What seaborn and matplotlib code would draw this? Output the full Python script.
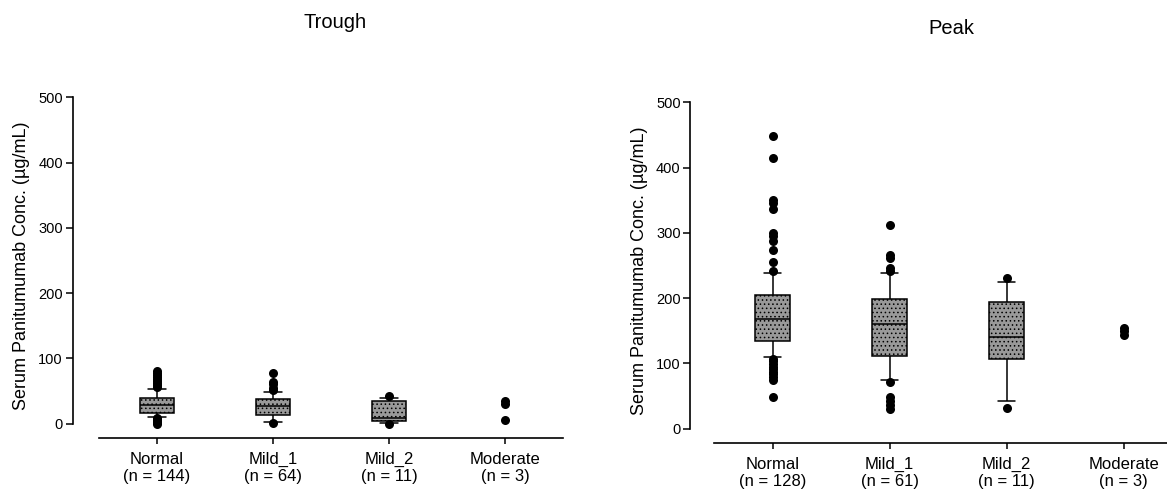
import numpy as np
import pandas as pd
import seaborn as sns
import matplotlib.pyplot as plt

groups = ["Normal", "Mild_1", "Mild_2", "Moderate"]
trough_n = [144, 64, 11, 3]
peak_n = [128, 61, 11, 3]

# box summary per group: whisker low (10th), q1, median, q3, whisker high (90th)
# Moderate (n = 3) has no box, only the points
trough_box = {
    "Normal": [10, 17, 29, 39, 53],
    "Mild_1": [3, 13, 27, 38, 49],
    "Mild_2": [1, 4, 9, 35, 39],
}
peak_box = {
    "Normal": [110, 135, 168, 205, 238],
    "Mild_1": [74, 111, 160, 199, 238],
    "Mild_2": [43, 106, 140, 194, 225],
}

# points outside the whiskers
trough_dots = {
    "Normal": [56, 59, 62, 65, 68, 71, 74, 77, 80, 8, 6, 4, 2, 0],
    "Mild_1": [77, 64, 60, 54, 51, 1],
    "Mild_2": [42, -1],
    "Moderate": [34, 30, 6],
}
peak_dots = {
    "Normal": [448, 415, 351, 345, 337, 300, 295, 287, 273, 256, 241,
               107, 103, 99, 95, 91, 87, 83, 79, 75, 48],
    "Mild_1": [312, 266, 261, 246, 241, 71, 48, 42, 36, 30],
    "Mild_2": [231, 32],
    "Moderate": [154, 149, 143],
}


def long_df(d):
    rows = [(g, v) for g, vals in d.items() for v in vals]
    return pd.DataFrame(rows, columns=["group", "value"])


def draw_panel(ax, box, dots, counts, yoff):
    sns.boxplot(data=long_df(box), x="group", y="value", order=groups,
                whis=(0, 100), width=0.3, color="0.6", linecolor="black",
                linewidth=1.1, showfliers=False, ax=ax)
    for p in ax.patches:
        p.set_hatch("....")
    sns.stripplot(data=long_df(dots), x="group", y="value", order=groups,
                  jitter=False, color="black", size=6.5, ax=ax)
    ax.set_ylim(-22, 505)
    ax.set_xlim(-0.5, 3.5)
    ax.set_yticks([0, 100, 200, 300, 400, 500])
    ax.set_xticks(range(len(groups)))
    ax.set_xticklabels([f"{g}\n(n = {n})" for g, n in zip(groups, counts)])
    ax.set_xlabel("")
    ax.set_ylabel("Serum Panitumumab Conc. (\u00b5g/mL)", fontsize=13, labelpad=6)
    sns.despine(ax=ax)
    ax.spines["left"].set_position(("outward", yoff))
    ax.spines["left"].set_bounds(0, 500)
    ax.tick_params(axis="y", labelsize=10.5, length=5, width=1.1, pad=2)
    ax.tick_params(axis="x", labelsize=12, length=4, width=1.1, pad=6)


sns.set_theme(style="ticks")
plt.rcParams["font.family"] = ["Liberation Sans", "DejaVu Sans"]
plt.rcParams["hatch.linewidth"] = 0.6
for k in ["text.color", "axes.labelcolor", "xtick.color", "ytick.color", "axes.edgecolor"]:
    plt.rcParams[k] = "black"
plt.rcParams["axes.linewidth"] = 1.2

fig = plt.figure(figsize=(11.67, 4.97), dpi=100)
ax1 = fig.add_axes([99 / 1167, (497 - 438) / 497, 464 / 1167, 344 / 497])
ax2 = fig.add_axes([714 / 1167, (497 - 443) / 497, 468 / 1167, 344 / 497])

draw_panel(ax1, trough_box, trough_dots, trough_n, 19)
draw_panel(ax2, peak_box, peak_dots, peak_n, 17)

fig.text(335 / 1167, 1 - 23 / 497, "Trough", ha="center", va="center", fontsize=14.5)
fig.text(951 / 1167, 1 - 29 / 497, "Peak", ha="center", va="center", fontsize=14.5)

fig.savefig("out.png", dpi=100)
